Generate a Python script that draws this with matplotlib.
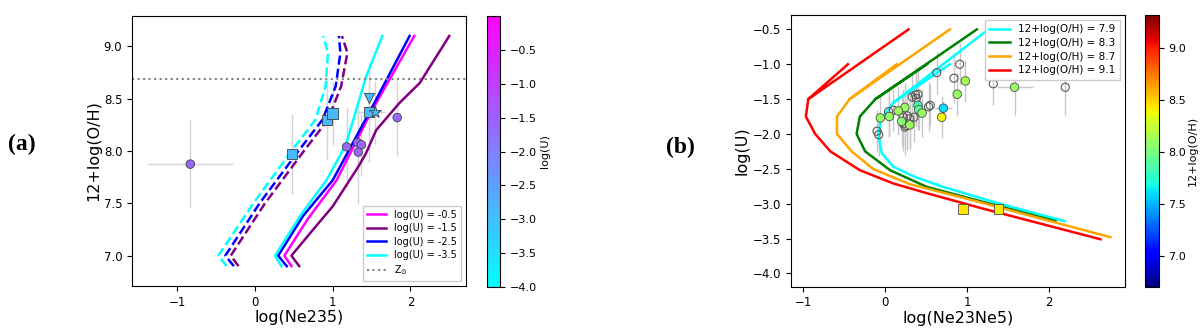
import numpy as np
import matplotlib
matplotlib.use("Agg")
import matplotlib.pyplot as plt
from matplotlib.colors import Normalize
from matplotlib.cm import ScalarMappable

nan = np.nan

# ======= panel (a): 12+log(O/H) vs log(Ne235) ==========
logu_labels = ["log(U) = -0.5", "log(U) = -1.5", "log(U) = -2.5", "log(U) = -3.5"]
logu_colors = ["#ff00ff", "#800080", "#0000ff", "#00ffff"]

# solid model tracks
sol_x = [
    [0.47, 0.38, 0.68, 1.05, 1.50, 2.05],
    [0.57, 0.47, 0.75, 1.00, 1.33, 1.43, 1.56, 1.86, 2.12, 2.50],
    [0.41, 0.30, 0.62, 1.00, 1.48, 1.99],
    [0.34, 0.26, 0.60, 0.92, 1.17, 1.43, 1.64],
]
sol_y = [
    [6.9, 7.0, 7.35, 7.72, 8.38, 9.1],
    [6.9, 7.0, 7.25, 7.47, 7.85, 7.98, 8.2, 8.46, 8.65, 9.1],
    [6.9, 7.0, 7.38, 7.72, 8.38, 9.1],
    [6.9, 7.0, 7.4, 7.72, 8.06, 8.71, 9.1],
]
# dashed model tracks
dash_y = [6.9, 7.0, 7.5, 8.0, 8.3, 8.62, 8.94, 9.1]
dash_x = [
    None,
    [-0.21, -0.31, 0.13, 0.63, 0.94, 1.11, 1.19, 1.12],
    [-0.27, -0.38, 0.06, 0.56, 0.87, 1.04, 1.10, 1.08],
    [-0.36, -0.47, -0.02, 0.47, 0.78, 0.91, 0.94, 0.88],
]
z_sun = 8.69

# observed objects
circ_x = [-0.83, 1.18, 1.32, 1.37, 1.33, 1.83]
circ_y = [7.875, 8.04, 8.08, 8.06, 7.99, 8.32]
circ_xerr = [0.55, 0.0, 0.0, 0.0, 0.0, 0.0]
circ_yerr = [0.42, 0.37, 0.3, 0.3, 0.5, 0.36]
circ_u = [-1.6, -1.6, -1.6, -1.6, -1.6, -1.6]

sq_x = [0.48, 0.93, 1.00, 1.47]
sq_y = [7.97, 8.30, 8.36, 8.37]
sq_xerr = [0.0, 0.0, 0.0, 0.17]
sq_yerr = [0.38, 0.38, 0.3, 0.47]
sq_u = [-2.9, -2.9, -2.9, -2.9]

tri_x, tri_y, tri_u = [1.47], [8.51], [-2.9]
star_x, star_y, star_u = [1.55], [8.37], [-2.9]
star_xerr, star_yerr = [0.12], [0.3]

# ======= panel (b): log(U) vs log(Ne23Ne5) ==========
oh_labels = ["12+log(O/H) = 7.9", "12+log(O/H) = 8.3", "12+log(O/H) = 8.7", "12+log(O/H) = 9.1"]
oh_colors = ["#00ffff", "#008000", "#ffa500", "#ff0000"]
trk_x = [
    [0.79, 0.10, nan, 1.26, 0.10, -0.06, -0.08, -0.04, 0.10, 0.35, 0.71, 1.40, 2.19],
    [0.51, -0.12, nan, 1.12, -0.12, -0.31, -0.35, -0.245, 0.06, 0.51, 2.08],
    [0.14, -0.435, nan, 0.79, -0.435, -0.59, -0.59, -0.41, -0.15, 0.30, 1.00, 2.75],
    [-0.456, -0.94, nan, 0.285, -0.94, -0.97, -0.856, -0.67, -0.31, 0.10, 0.51, 1.16, 2.63],
]
trk_y = [
    [-1.0, -1.55, nan, -0.5, -1.55, -1.8, -2.05, -2.28, -2.47, -2.61, -2.76, -3.0, -3.25],
    [-1.0, -1.5, nan, -0.5, -1.5, -1.75, -2.0, -2.25, -2.52, -2.76, -3.25],
    [-1.0, -1.5, nan, -0.5, -1.5, -1.75, -2.0, -2.25, -2.5, -2.72, -2.93, -3.48],
    [-1.0, -1.5, nan, -0.5, -1.5, -1.75, -2.0, -2.25, -2.52, -2.71, -2.85, -3.06, -3.51],
]

open_x = [0.63, 0.91, 0.84, 1.32, 2.20, 0.33, 0.37, 0.40, 0.38, 0.55, 0.53, 0.04, 0.10,
          0.22, 0.27, 0.30, 0.35, 0.22, 0.24, 0.26, -0.10, -0.08]
open_y = [-1.12, -1.00, -1.20, -1.28, -1.33, -1.47, -1.44, -1.43, -1.49, -1.59, -1.61, -1.68, -1.66,
          -1.76, -1.74, -1.78, -1.76, -1.85, -1.90, -1.88, -1.96, -2.01]
open_yerr = [0.3, 0.3, 0.35, 0.3, 0.4, 0.35, 0.4, 0.35, 0.4, 0.3, 0.35, 0.35, 0.3,
             0.4, 0.35, 0.4, 0.35, 0.4, 0.4, 0.35, 0.3, 0.3]

col_x = [0.98, 0.88, 1.58, 0.71, 0.69, 0.40, 0.41, 0.45, 0.24, 0.16, -0.06, 0.05, 0.20, 0.30]
col_y = [-1.24, -1.43, -1.33, -1.63, -1.76, -1.59, -1.65, -1.70, -1.62, -1.67, -1.77, -1.75, -1.82, -1.87]
col_yerr = [0.3, 0.31, 0.4, 0.1, 0.3, 0.35, 0.3, 0.35, 0.35, 0.35, 0.35, 0.3, 0.35, 0.35]
col_xerr = [0.0, 0.0, 0.22, 0.1, 0.0, 0.0, 0.0, 0.0, 0.0, 0.0, 0.0, 0.0, 0.0, 0.0]
col_oh = [8.15, 8.1, 8.1, 7.6, 8.4, 7.85, 7.9, 8.1, 8.1, 8.1, 8.1, 8.1, 8.05, 8.1]

bsq_x = [0.95, 1.385]
bsq_y = [-3.08, -3.08]
bsq_oh = [8.45, 8.45]

# ======= figure ==========
fig = plt.figure(figsize=(12, 3.28), dpi=100)
ax1 = fig.add_axes([0.110, 0.128, 0.278, 0.823])
cax1 = fig.add_axes([0.4056, 0.125, 0.0111, 0.826])
ax2 = fig.add_axes([0.659, 0.126, 0.2785, 0.828])
cax2 = fig.add_axes([0.954, 0.126, 0.0117, 0.828])

norm_u = Normalize(-4.0, 0.0)
norm_oh = Normalize(6.7, 9.32)

# --- panel a
for i in range(4):
    ax1.plot(sol_x[i], sol_y[i], color=logu_colors[i], lw=1.8, label=logu_labels[i])
for i in range(4):
    if dash_x[i] is not None:
        ax1.plot(dash_x[i], dash_y, color=logu_colors[i], lw=1.8, ls="--")
ax1.axhline(z_sun, color="gray", ls=":", lw=1.5, label=r"Z$_{\odot}$")

ax1.errorbar(circ_x, circ_y, xerr=circ_xerr, yerr=circ_yerr, fmt="none", ecolor="lightgray", elinewidth=1, zorder=1)
ax1.errorbar(sq_x, sq_y, xerr=sq_xerr, yerr=sq_yerr, fmt="none", ecolor="lightgray", elinewidth=1, zorder=1)
ax1.errorbar(star_x, star_y, xerr=star_xerr, yerr=star_yerr, fmt="none", ecolor="lightgray", elinewidth=1, zorder=1)
ax1.scatter(circ_x, circ_y, c=circ_u, cmap="cool", norm=norm_u, s=38, edgecolors="0.25", linewidths=0.6, zorder=4)
ax1.scatter(sq_x, sq_y, c=sq_u, cmap="cool", norm=norm_u, s=55, marker="s", edgecolors="0.25", linewidths=0.6, zorder=4)
ax1.scatter(tri_x, tri_y, c=tri_u, cmap="cool", norm=norm_u, s=55, marker="v", edgecolors="0.25", linewidths=0.6, zorder=4)
ax1.scatter(star_x, star_y, c=star_u, cmap="cool", norm=norm_u, s=80, marker="*", edgecolors="0.25", linewidths=0.6, zorder=4)

ax1.set_xlim(-1.58, 2.71)
ax1.set_ylim(6.71, 9.29)
ax1.set_xticks([-1, 0, 1, 2])
ax1.set_yticks([7.0, 7.5, 8.0, 8.5, 9.0])
ax1.tick_params(labelsize=8.5)
ax1.set_xlabel("log(Ne235)", fontsize=11.5, labelpad=1)
ax1.set_ylabel("12+log(O/H)", fontsize=11.5, labelpad=2)
ax1.legend(loc="lower right", fontsize=7, fancybox=False, framealpha=1, borderpad=0.4, labelspacing=0.35)

cb1 = fig.colorbar(ScalarMappable(norm=norm_u, cmap="cool"), cax=cax1)
cb1.set_ticks([-4.0, -3.5, -3.0, -2.5, -2.0, -1.5, -1.0, -0.5])
cb1.ax.tick_params(labelsize=8)
cb1.set_label("log(U)", fontsize=8, labelpad=2)

# --- panel b
for i in range(4):
    ax2.plot(trk_x[i], trk_y[i], color=oh_colors[i], lw=1.8, label=oh_labels[i])
ax2.errorbar(open_x, open_y, yerr=open_yerr, fmt="none", ecolor="0.78", elinewidth=1, zorder=1)
ax2.errorbar(col_x, col_y, xerr=col_xerr, yerr=col_yerr, fmt="none", ecolor="0.78", elinewidth=1, zorder=1)
ax2.errorbar(bsq_x, bsq_y, xerr=[0.0, 0.06], yerr=[0.0, 0.05], fmt="none", ecolor="0.78", elinewidth=1, zorder=1)
ax2.scatter(open_x, open_y, facecolors="none", edgecolors="0.35", s=34, linewidths=0.8, zorder=3)
ax2.scatter(col_x, col_y, c=col_oh, cmap="jet", norm=norm_oh, s=38, edgecolors="0.3", linewidths=0.6, zorder=4)
ax2.scatter(bsq_x, bsq_y, c=bsq_oh, cmap="jet", norm=norm_oh, s=48, marker="s", edgecolors="0.3", linewidths=0.6, zorder=4)

ax2.set_xlim(-1.154, 2.93)
ax2.set_ylim(-4.19, -0.295)
ax2.set_xticks([-1, 0, 1, 2])
ax2.set_yticks([-4.0, -3.5, -3.0, -2.5, -2.0, -1.5, -1.0, -0.5])
ax2.tick_params(labelsize=8.5)
ax2.set_xlabel("log(Ne23Ne5)", fontsize=11.5, labelpad=1)
ax2.set_ylabel("log(U)", fontsize=11.5, labelpad=2)
ax2.legend(loc="upper right", fontsize=7.5, fancybox=False, framealpha=1, borderpad=0.4, labelspacing=0.35)

cb2 = fig.colorbar(ScalarMappable(norm=norm_oh, cmap="jet"), cax=cax2)
cb2.set_ticks([7.0, 7.5, 8.0, 8.5, 9.0])
cb2.ax.tick_params(labelsize=8)
cb2.set_label("12+log(O/H)", fontsize=8, labelpad=1)

# panel letters
fig.text(0.018, 0.56, "(a)", fontsize=17, fontweight="bold", family="Liberation Serif", ha="center", va="center")
fig.text(0.567, 0.55, "(b)", fontsize=17, fontweight="bold", family="Liberation Serif", ha="center", va="center")

fig.savefig("out.png", dpi=100)
plt.close(fig)
print("out.png is saved")
